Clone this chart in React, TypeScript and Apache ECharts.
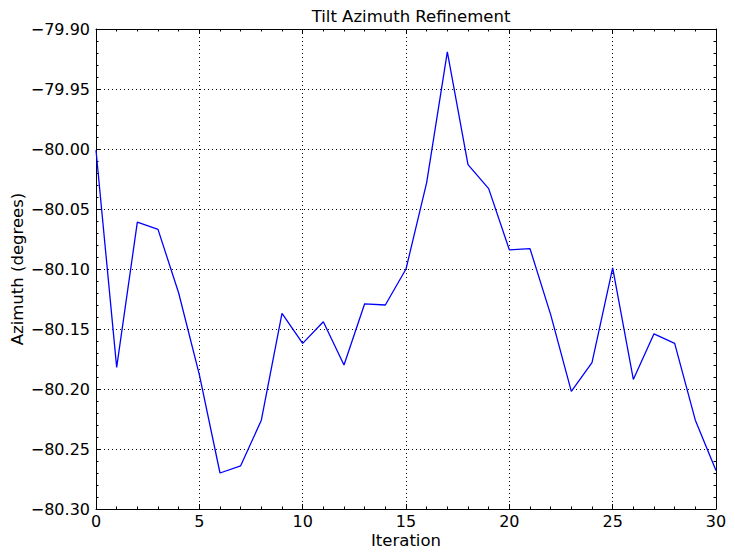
import React, { useEffect, useRef } from "react";
import * as echarts from "echarts";

const iterations = [0,1,2,3,4,5,6,7,8,9,10,11,12,13,14,15,16,17,18,19,20,21,22,23,24,25,26,27,28,29,30];
const azimuth = [
  -80.001, -80.182, -80.061, -80.067, -80.120, -80.188, -80.270, -80.264, -80.226, -80.137,
  -80.162, -80.144, -80.180, -80.129, -80.130, -80.100, -80.028, -79.919, -80.013, -80.033,
  -80.084, -80.083, -80.138, -80.202, -80.178, -80.099, -80.192, -80.154, -80.162, -80.226,
  -80.268,
];
const titleText = "Tilt Azimuth Refinement";
const xName = "Iteration";
const yName = "Azimuth (degrees)";

const FONT = "DejaVu Sans";

export default function App() {
  const ref = useRef<HTMLDivElement>(null);
  useEffect(() => {
    if (!ref.current) return;
    const chart = echarts.init(ref.current, null, { renderer: "svg" });
    const fmtY = (v: number) => v.toFixed(2).replace("-", "\u2212");
    const common = {
      axisLine: { show: true, onZero: false, lineStyle: { color: "#000", width: 1 } },
      axisTick: { show: true, inside: true, length: 5, lineStyle: { color: "#000", width: 1 } },
      minorTick: { show: true, splitNumber: 5, length: 2.5, lineStyle: { color: "#000", width: 1 } },
    };
    chart.setOption({
      animation: false,
      backgroundColor: "#fff",
      title: {
        text: titleText,
        left: 406,
        textAlign: "center",
        top: 3,
        textStyle: { fontFamily: FONT, fontSize: 16.5, fontWeight: "normal", color: "#000" },
      },
      graphic: [
        {
          type: "text",
          x: 406,
          y: 540,
          style: {
            text: xName,
            fontFamily: FONT,
            fontSize: 16.5,
            fill: "#000",
            align: "center",
            verticalAlign: "middle",
          },
        },
        {
          type: "text",
          x: 17,
          y: 269,
          rotation: Math.PI / 2,
          style: {
            text: yName,
            fontFamily: FONT,
            fontSize: 16.5,
            fill: "#000",
            align: "center",
            verticalAlign: "middle",
          },
        },
      ],
      grid: { left: 96, right: 19, top: 29, bottom: 46, containLabel: false, outerBoundsMode: "none" },
      xAxis: [
        {
          type: "value",
          min: 0,
          max: 30,
          interval: 5,
          position: "bottom",
          ...common,
          axisLabel: { show: true, margin: 4, fontFamily: FONT, fontSize: 16, color: "#000" },
          splitLine: { show: true, lineStyle: { color: "#000", type: [1, 3], width: 1 } },
        },
        {
          type: "value",
          min: 0,
          max: 30,
          interval: 5,
          position: "top",
          ...common,
          axisLabel: { show: false },
          splitLine: { show: false },
        },
      ],
      yAxis: [
        {
          type: "value",
          min: -80.3,
          max: -79.9,
          interval: 0.05,
          position: "left",
          ...common,
          axisLabel: { show: true, margin: 6, fontFamily: FONT, fontSize: 16, color: "#000", formatter: fmtY },
          splitLine: { show: true, lineStyle: { color: "#000", type: [1, 3], width: 1 } },
        },
        {
          type: "value",
          min: -80.3,
          max: -79.9,
          interval: 0.05,
          position: "right",
          ...common,
          axisLabel: { show: false },
          splitLine: { show: false },
        },
      ],
      series: [
        {
          type: "line",
          data: iterations.map((x, i) => [x, azimuth[i]]),
          showSymbol: false,
          symbol: "none",
          lineStyle: { color: "#0000ff", width: 1.3 },
          xAxisIndex: 0,
          yAxisIndex: 0,
        },
      ],
    });
    return () => chart.dispose();
  }, []);
  return (
    <div style={{ position: "fixed", left: 0, top: 0, width: 735, height: 555 }}>
      <div ref={ref} style={{ width: 735, height: 555 }} />
    </div>
  );
}
